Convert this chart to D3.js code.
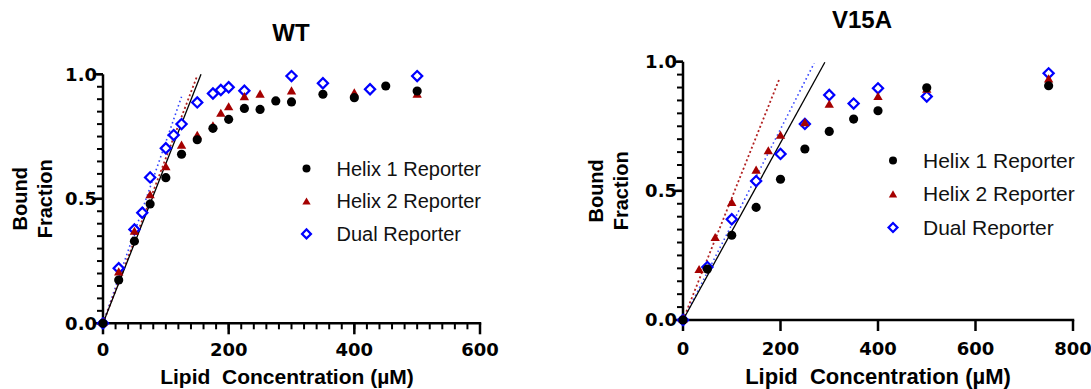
<!DOCTYPE html>
<html>
<head>
<meta charset="utf-8">
<script src="https://cdn.jsdelivr.net/npm/d3@7"></script>
<style>
  body { margin: 0; background: #fff; }
  svg { display: block; }
  text { font-family: "Liberation Sans", Arial, sans-serif; }
  .tick-label { font-family: "DejaVu Sans", sans-serif; font-weight: bold; font-size: 18px; }
</style>
</head>
<body>
<svg id="chart" width="1091" height="389"></svg>
<script>
// ---- data ----
var seriesNames = ["Helix 1 Reporter", "Helix 2 Reporter", "Dual Reporter"];

// WT
var wtH1x = [0, 25, 50, 75, 100, 125, 150, 175, 200, 225, 250, 275, 300, 350, 400, 450, 500];
var wtH1y = [0, 0.174, 0.33, 0.479, 0.585, 0.679, 0.737, 0.783, 0.819, 0.863, 0.859, 0.893, 0.889, 0.92, 0.906, 0.953, 0.933];
var wtH2x = [0, 25, 50, 75, 100, 125, 150, 175, 187.5, 200, 225, 250, 300, 400, 500];
var wtH2y = [0, 0.203, 0.366, 0.513, 0.626, 0.712, 0.752, 0.79, 0.84, 0.866, 0.907, 0.917, 0.93, 0.922, 0.917];
var wtDx = [0, 25, 50, 62.5, 75, 100, 112.5, 125, 150, 175, 187.5, 200, 225, 300, 350, 425, 500];
var wtDy = [0, 0.221, 0.377, 0.444, 0.586, 0.703, 0.756, 0.8, 0.887, 0.923, 0.937, 0.948, 0.934, 0.993, 0.964, 0.94, 0.993];
// fitted initial slopes: [x end, y end]
var wtFitH1 = [[0, 0], [156, 1.0]];
var wtFitH2 = [[0, 0], [149, 0.988]];
var wtFitD = [[0, 0], [125, 0.91]];

// V15A
var vH1x = [0, 50, 100, 150, 200, 250, 300, 350, 400, 500, 750];
var vH1y = [0, 0.197, 0.328, 0.436, 0.545, 0.662, 0.73, 0.778, 0.81, 0.899, 0.907];
var vH2x = [0, 33, 66, 100, 150, 175, 200, 250, 300, 400, 500, 750];
var vH2y = [0, 0.192, 0.316, 0.452, 0.577, 0.652, 0.712, 0.761, 0.832, 0.862, 0.89, 0.93];
var vDx = [0, 50, 100, 150, 200, 250, 300, 350, 400, 500, 750];
var vDy = [0, 0.205, 0.39, 0.538, 0.643, 0.759, 0.871, 0.838, 0.897, 0.865, 0.955];
var vFitH1 = [[0, 0], [291, 0.998]];
var vFitH2 = [[0, 0], [198, 0.935]];
var vFitD = [[0, 0], [269, 0.994]];

var xTicksWT = [0, 200, 400, 600];
var xTicksV = [0, 200, 400, 600, 800];
var yTicks = [0, 0.5, 1.0];

var svg = d3.select("#chart");

function zip(xs, ys) {
  return xs.map(function (x, i) { return [x, ys[i]]; });
}

function drawPanel(opt) {
  var g = svg.append("g");
  var x = d3.scaleLinear().domain([0, opt.xMax]).range([opt.left, opt.right]);
  var y = d3.scaleLinear().domain([0, 1]).range([opt.bottom, opt.top]);

  // minor ticks
  var yMinor = d3.range(0, 1.0001, 0.05);
  g.selectAll(".ymin").data(yMinor).enter().append("line")
    .attr("x1", opt.left - 6).attr("x2", opt.left)
    .attr("y1", function (d) { return y(d); }).attr("y2", function (d) { return y(d); })
    .attr("stroke", "#000").attr("stroke-width", 2);
  if (opt.xMinor) {
    var xMinor = d3.range(0, opt.xMax + 0.1, opt.xMinor);
    g.selectAll(".xmin").data(xMinor).enter().append("line")
      .attr("x1", function (d) { return x(d); }).attr("x2", function (d) { return x(d); })
      .attr("y1", opt.bottom).attr("y2", opt.bottom + 6)
      .attr("stroke", "#000").attr("stroke-width", 2);
  }
  // major ticks
  g.selectAll(".ymaj").data(yTicks).enter().append("line")
    .attr("x1", opt.left - 8).attr("x2", opt.left)
    .attr("y1", function (d) { return y(d); }).attr("y2", function (d) { return y(d); })
    .attr("stroke", "#000").attr("stroke-width", 2.5);
  g.selectAll(".xmaj").data(opt.xTicks).enter().append("line")
    .attr("x1", function (d) { return x(d); }).attr("x2", function (d) { return x(d); })
    .attr("y1", opt.bottom).attr("y2", opt.bottom + 11)
    .attr("stroke", "#000").attr("stroke-width", 2.5);

  // axis lines
  g.append("line").attr("x1", opt.left).attr("x2", opt.left)
    .attr("y1", y(1)).attr("y2", opt.bottom + 1.25)
    .attr("stroke", "#000").attr("stroke-width", 2.5);
  g.append("line").attr("x1", opt.left - 1.25).attr("x2", opt.right + 1.25)
    .attr("y1", opt.bottom).attr("y2", opt.bottom)
    .attr("stroke", "#000").attr("stroke-width", 2.5);

  // tick labels
  g.selectAll(".ylab").data(yTicks).enter().append("text")
    .attr("class", "tick-label")
    .attr("x", opt.left - 6).attr("y", function (d) { return y(d); })
    .attr("dy", "0.36em").attr("text-anchor", "end")
    .text(function (d) { return d3.format(".1f")(d); });
  g.selectAll(".xlab").data(opt.xTicks).enter().append("text")
    .attr("class", "tick-label")
    .attr("x", function (d) { return x(d); }).attr("y", opt.bottom + opt.tickDy)
    .attr("text-anchor", "middle")
    .text(function (d) { return d; });

  // titles and axis labels
  g.append("text").attr("x", opt.titleX).attr("y", opt.titleY)
    .attr("text-anchor", "middle").style("font-weight", "bold").style("font-size", "24px")
    .text(opt.title);
  g.append("text").attr("x", opt.xLabelX).attr("y", opt.xLabelY)
    .attr("text-anchor", "middle").style("font-weight", "bold").style("font-size", opt.labelSize + "px")
    .style("white-space", "pre")
    .text("Lipid  Concentration (\u00b5M)");
  var ymid = (y(0) + y(1)) / 2;
  var yl = g.append("text")
    .attr("transform", "translate(" + opt.yLabelX + "," + ymid + ") rotate(-90)")
    .attr("text-anchor", "middle").style("font-weight", "bold").style("font-size", "20px");
  yl.append("tspan").attr("x", 0).attr("y", 0).text("Bound");
  yl.append("tspan").attr("x", 0).attr("y", 25).text("Fraction");

  // fit lines
  var line = d3.line().x(function (d) { return x(d[0]); }).y(function (d) { return y(d[1]); });
  g.append("path").attr("d", line(opt.fitD)).attr("fill", "none")
    .attr("stroke", "#3344ff").attr("stroke-width", 1.6).attr("stroke-dasharray", "1.5,3");
  g.append("path").attr("d", line(opt.fitH2)).attr("fill", "none")
    .attr("stroke", "#b22222").attr("stroke-width", 1.8).attr("stroke-dasharray", "2,2.5");
  g.append("path").attr("d", line(opt.fitH1)).attr("fill", "none")
    .attr("stroke", "#000").attr("stroke-width", 1.3);

  // points: blue diamonds under red triangles under black circles
  var diamond = d3.symbol().type(d3.symbolSquare).size(52);
  var tri = d3.symbol().type(d3.symbolTriangle).size(38);
  var circ = d3.symbol().type(d3.symbolCircle).size(66);

  g.selectAll(".pd").data(opt.dual).enter().append("path")
    .attr("d", diamond)
    .attr("transform", function (d) { return "translate(" + x(d[0]) + "," + y(d[1]) + ") rotate(45)"; })
    .attr("fill", "#fff").attr("stroke", "#0000ff").attr("stroke-width", 2.2);
  g.selectAll(".pt").data(opt.h2).enter().append("path")
    .attr("d", tri)
    .attr("transform", function (d) { return "translate(" + x(d[0]) + "," + y(d[1]) + ")"; })
    .attr("fill", "#a50000");
  g.selectAll(".pc").data(opt.h1).enter().append("path")
    .attr("d", circ)
    .attr("transform", function (d) { return "translate(" + x(d[0]) + "," + y(d[1]) + ")"; })
    .attr("fill", "#000");

  // legend
  var lg = g.append("g");
  var symbols = [
    d3.symbol().type(d3.symbolCircle).size(50)(),
    d3.symbol().type(d3.symbolTriangle).size(30)(),
    d3.symbol().type(d3.symbolSquare).size(40)()
  ];
  seriesNames.forEach(function (name, i) {
    var cy = opt.legY + i * opt.legStep;
    var p = lg.append("path").attr("d", symbols[i]);
    if (i === 0) p.attr("transform", "translate(" + opt.legX + "," + cy + ")").attr("fill", "#000");
    if (i === 1) p.attr("transform", "translate(" + opt.legX + "," + (cy + 1) + ")").attr("fill", "#a50000");
    if (i === 2) p.attr("transform", "translate(" + opt.legX + "," + cy + ") rotate(45)")
      .attr("fill", "#fff").attr("stroke", "#0000ff").attr("stroke-width", 2.2);
    lg.append("text").attr("x", opt.legX + 30).attr("y", cy + 7)
      .style("font-size", opt.legSize + "px").attr("fill", "#111").text(name);
  });
}

drawPanel({
  title: "WT", titleX: 291, titleY: 41,
  xMax: 600, left: 103, right: 480, top: 74.3, bottom: 323.3,
  xTicks: xTicksWT, xMinor: 20, tickDy: 33,
  xLabelX: 287, xLabelY: 384, labelSize: 21, yLabelX: 27,
  h1: zip(wtH1x, wtH1y), h2: zip(wtH2x, wtH2y), dual: zip(wtDx, wtDy),
  fitH1: wtFitH1, fitH2: wtFitH2, fitD: wtFitD,
  legX: 306.5, legY: 168.5, legStep: 32.7, legSize: 20
});

drawPanel({
  title: "V15A", titleX: 862, titleY: 28,
  xMax: 800, left: 683, right: 1073, top: 61.7, bottom: 320,
  xTicks: xTicksV, xMinor: 0, tickDy: 35,
  xLabelX: 878, xLabelY: 384, labelSize: 22, yLabelX: 603,
  h1: zip(vH1x, vH1y), h2: zip(vH2x, vH2y), dual: zip(vDx, vDy),
  fitH1: vFitH1, fitH2: vFitH2, fitD: vFitD,
  legX: 893, legY: 160.5, legStep: 33.5, legSize: 21
});
</script>
</body>
</html>
